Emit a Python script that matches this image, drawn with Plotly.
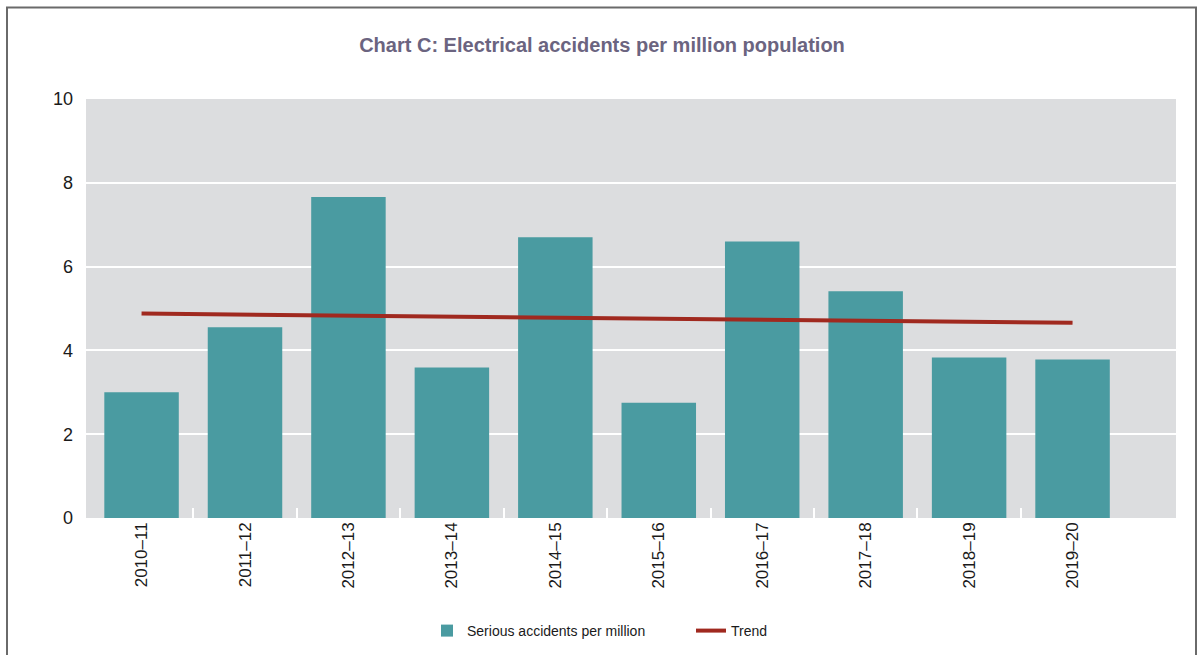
import plotly.graph_objects as go

categories = ["2010\u201311", "2011\u201312", "2012\u201313", "2013\u201314", "2014\u201315",
              "2015\u201316", "2016\u201317", "2017\u201318", "2018\u201319", "2019\u201320"]
serious_per_million = [3.0, 4.55, 7.66, 3.59, 6.70, 2.75, 6.60, 5.41, 3.83, 3.78]
trend = [4.88, 4.855, 4.83, 4.805, 4.78, 4.76, 4.735, 4.71, 4.685, 4.66]
y_ticks = [0, 2, 4, 6, 8, 10]

FONT = "Liberation Sans, Arial, sans-serif"
XR = [-0.537, 10.0]

fig = go.Figure()
fig.add_trace(go.Bar(
    x=categories, y=serious_per_million, name="Serious accidents per million",
    marker=dict(color="#4a9ba1", line=dict(width=0)), width=0.72,
))
fig.add_trace(go.Scatter(
    x=categories, y=trend, name="Trend", mode="lines",
    line=dict(color="#a0291f", width=4),
))
# empty helper trace so the boundary-tick axis is drawn
fig.add_trace(go.Scatter(x=[], y=[], xaxis="x2", showlegend=False, hoverinfo="skip"))

fig.update_layout(
    width=1199, height=655,
    margin=dict(l=86, r=23, t=99, b=137),
    paper_bgcolor="white", plot_bgcolor="#dcdddf",
    font=dict(family=FONT, color="#1a1a1a"),
    title=dict(text="<b>Chart C: Electrical accidents per million population</b>",
               x=(602 - 86) / 1090, xref="paper", xanchor="center",
               y=1 - 45 / 655, yanchor="middle",
               font=dict(family=FONT, size=20, color="#6b6480")),
    showlegend=True,
    legend=dict(orientation="h", x=427 / 1199, xanchor="left", xref="container",
                y=1 - 631 / 655, yref="container", yanchor="middle",
                font=dict(family=FONT, size=14, color="#1a1a1a"),
                itemwidth=30, entrywidth=219, traceorder="normal"),
    xaxis=dict(type="category", range=XR, tickangle=-90,
               tickfont=dict(family=FONT, size=17, color="#1a1a1a"),
               ticks="", showgrid=False, showline=False, zeroline=False),
    xaxis2=dict(overlaying="x", type="linear", range=XR,
                tickvals=[i + 0.5 for i in range(len(categories) - 1)],
                showticklabels=False, ticks="inside", ticklen=10,
                tickcolor="white", tickwidth=2, showgrid=False,
                zeroline=False, showline=False, side="bottom",
                layer="above traces", fixedrange=True),
)
fig.update_yaxes(
    range=[0, 10], tickvals=y_ticks, ticktext=[str(v) for v in y_ticks],
    tickfont=dict(family=FONT, size=18, color="#1a1a1a"),
    showgrid=True, gridcolor="white", gridwidth=2,
    zeroline=False, showline=False, ticks="", ticklabelstandoff=12,
)

# outer frame
fig.add_shape(type="rect", xref="paper", yref="paper",
              x0=(7 - 86) / 1090, x1=(1196 - 86) / 1090,
              y0=-0.5, y1=(518 - 7.5) / 419,
              line=dict(color="#6a6a6a", width=2), fillcolor="rgba(0,0,0,0)",
              layer="above")

fig.write_html("out.html", config={"displayModeBar": False},
               post_script="document.body.style.margin='0';document.body.style.padding='0';")
